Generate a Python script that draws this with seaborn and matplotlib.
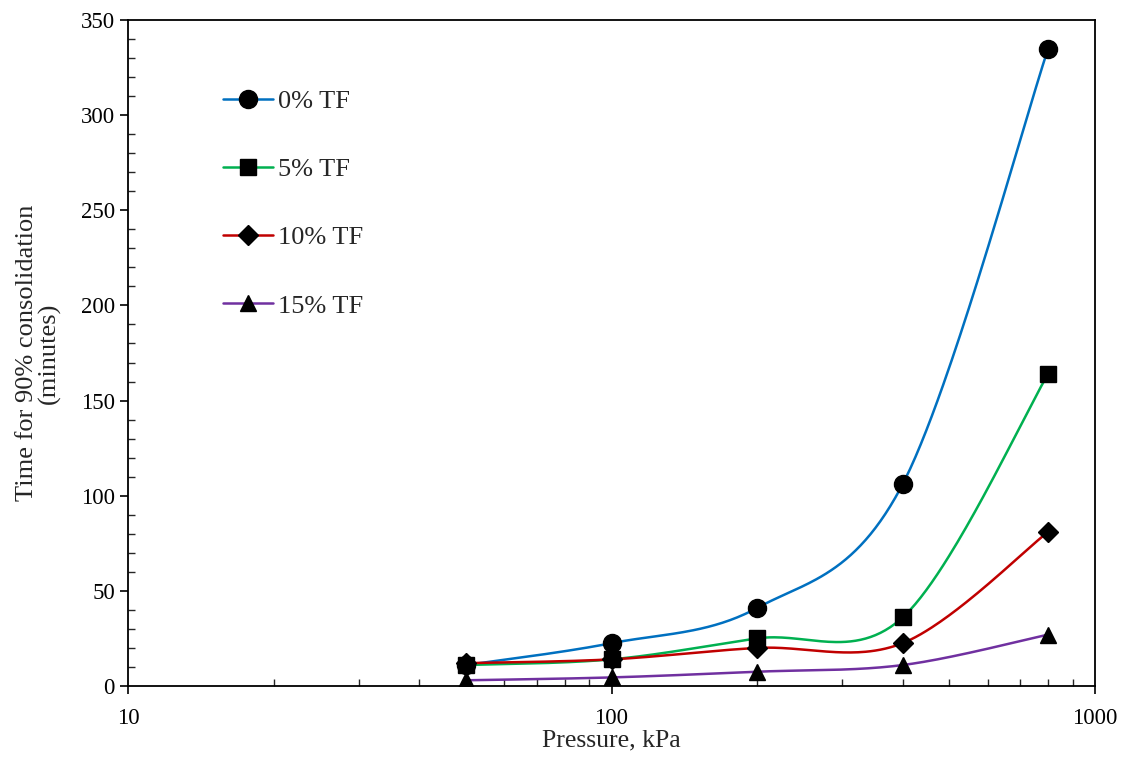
import numpy as np
import pandas as pd
import matplotlib
matplotlib.use('Agg')
import matplotlib.pyplot as plt
from matplotlib.lines import Line2D
from matplotlib.ticker import FixedLocator, NullFormatter, LogLocator
import seaborn as sns

# data
pressure = [50, 100, 200, 400, 800]
tf_0 = [11, 22.5, 41, 106, 335]
tf_5 = [11, 14, 25, 36, 164]
tf_10 = [12, 14, 20, 22.5, 81]
tf_15 = [3, 4.5, 7.5, 11, 27]

labels = ['0% TF', '5% TF', '10% TF', '15% TF']
colors = ['#0070C0', '#00B050', '#C00000', '#7030A0']
markers = ['o', 's', 'D', '^']
msizes = [13, 12, 10, 12]

sns.set_style('ticks')
plt.rcParams['font.family'] = ['Liberation Serif', 'DejaVu Serif']

fig = plt.figure(figsize=(11.27, 7.58), dpi=100)
ax = fig.add_axes([0.1136, 0.095, 0.858, 0.8786])
ax.set_xscale('log')
ax.set_xlim(10, 1000)
ax.set_ylim(0, 350)

# px per decade and per minute, to smooth like Excel in screen space
w_px = 0.858 * 1127
h_px = 0.8786 * 758
sx = w_px / 2.0
sy = h_px / 350.0


def excel_smooth(xs, ys, n=60):
    u = np.log10(np.asarray(xs, float)) * sx
    v = np.asarray(ys, float) * sy
    p = np.column_stack([u, v])
    out = []
    m = len(p)
    t = np.linspace(0, 1, n)[:, None]
    for i in range(m - 1):
        p0 = p[max(i - 1, 0)]
        p1 = p[i]
        p2 = p[i + 1]
        p3 = p[min(i + 2, m - 1)]
        c1 = p1 + (p2 - p0) / 6.0
        c2 = p2 - (p3 - p1) / 6.0
        seg = ((1 - t) ** 3) * p1 + 3 * ((1 - t) ** 2) * t * c1 + 3 * (1 - t) * t ** 2 * c2 + t ** 3 * p2
        out.append(seg if i == 0 else seg[1:])
    out = np.vstack(out)
    return 10 ** (out[:, 0] / sx), out[:, 1] / sy


series = [tf_0, tf_5, tf_10, tf_15]
rows = []
for lab, ys in zip(labels, series):
    cx, cy = excel_smooth(pressure, ys)
    for k, (a, b) in enumerate(zip(cx, cy)):
        rows.append({'Pressure': a, 'Time': b, 'Series': lab, 'k': k})
curves = pd.DataFrame(rows)

pts = pd.DataFrame({
    'Pressure': pressure * 4,
    'Time': tf_0 + tf_5 + tf_10 + tf_15,
    'Series': np.repeat(labels, len(pressure)),
})

sns.lineplot(data=curves, x='Pressure', y='Time', hue='Series', palette=colors,
             units='Series', estimator=None, sort=False, linewidth=1.8,
             legend=False, ax=ax)

for lab, mk, ms in zip(labels, markers, msizes):
    sub = pts[pts['Series'] == lab]
    ax.plot(sub['Pressure'], sub['Time'], linestyle='none', marker=mk,
            markersize=ms, color='black', zorder=5)

handles = [Line2D([0], [0], color=c, lw=1.8, marker=mk, markersize=ms,
                  markerfacecolor='black', markeredgecolor='black')
           for c, mk, ms in zip(colors, markers, msizes)]
ax.legend(handles, labels, loc='upper left', bbox_to_anchor=(0.087, 0.911),
          frameon=False, fontsize=19, handlelength=1.9, handletextpad=0.2,
          labelspacing=1.69, borderaxespad=0)

# ticks
ax.set_yticks(np.arange(0, 351, 50))
ax.yaxis.set_minor_locator(FixedLocator(np.arange(0, 351, 10)))
ax.xaxis.set_major_locator(FixedLocator([10, 100, 1000]))
ax.xaxis.set_minor_locator(LogLocator(base=10, subs=np.arange(2, 10)))
ax.xaxis.set_minor_formatter(NullFormatter())
ax.set_xticklabels(['10', '100', '1000'])
ax.tick_params(which='major', direction='out', length=6, width=1.2,
               labelsize=16.5, colors='black')
ax.tick_params(which='minor', direction='in', length=5, width=1.0)
ax.tick_params(axis='x', which='major', pad=10)

for s in ax.spines.values():
    s.set_color('black')
    s.set_linewidth(1.3)

ax.set_xlabel('Pressure, kPa', fontsize=18.5, labelpad=0)
ax.set_ylabel('Time for 90% consolidation\n(minutes)', fontsize=19, labelpad=14,
              linespacing=1.0)

fig.savefig('out.png', dpi=100)
